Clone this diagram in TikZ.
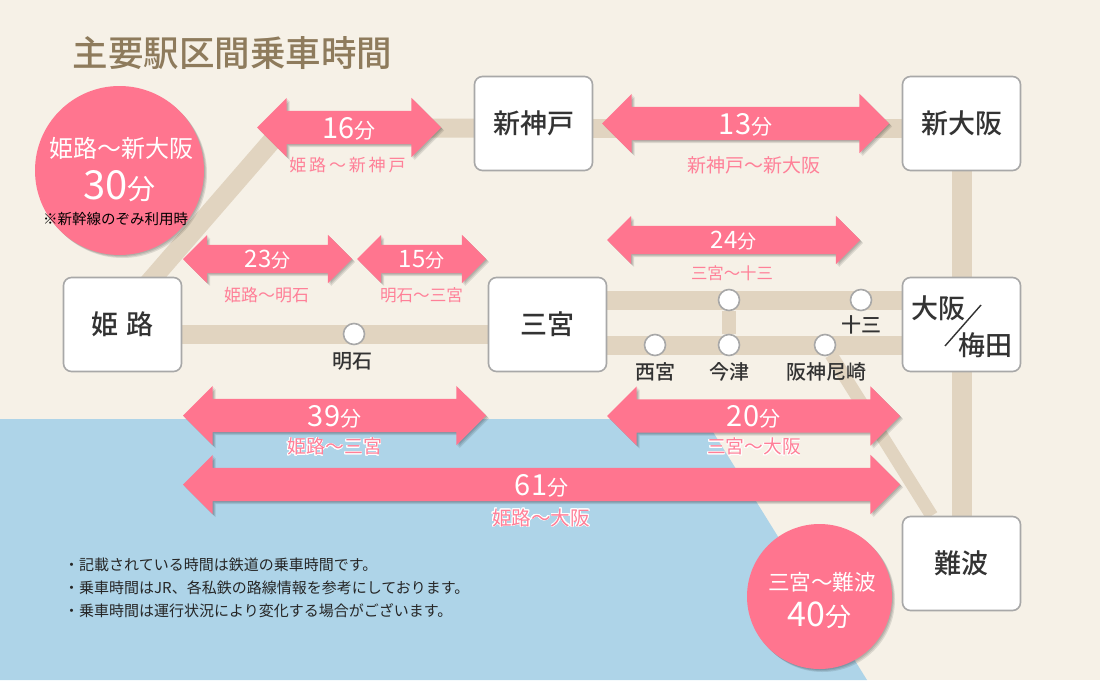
\documentclass[tikz,border=0pt]{standalone}
\usepackage{fontspec}
\usepackage{contour}
\setmainfont{Noto Sans CJK JP}
\setsansfont{Noto Sans CJK JP}
\newfontfamily\jpmed{Noto Sans CJK JP}[UprightFont=* Medium]
\contourlength{0.7pt}
\usepackage{xcolor}
\usepackage{tikz}
\usetikzlibrary{shapes,shadows,backgrounds}

\definecolor{paper}{HTML}{F6F1E7}
\definecolor{sea}{HTML}{AED4E8}
\definecolor{railtan}{HTML}{E1D4C0}
\definecolor{rosepink}{HTML}{FF758F}
\definecolor{titlebrown}{HTML}{8E7B5C}
\definecolor{boxgray}{HTML}{A8A8A8}
\definecolor{inkdark}{HTML}{333333}

\newcommand{\px}[1]{\fontsize{#1}{#1}\selectfont}
\newcommand{\bigmin}[1]{{\px{29}#1}{\px{21}分}}
\newcommand{\smallmin}[1]{{\px{24}#1}{\px{19}分}}

\begin{document}
\begin{tikzpicture}[
    x=1pt, y=-1pt,
    rail/.style={draw=railtan, line width=19pt},
    stationbox/.style={draw=boxgray, fill=white, line width=1.6pt, rounded corners=8pt, minimum width=118pt, minimum height=94pt, inner sep=0pt, text=inkdark, font=\px{27}\jpmed},
    stopdot/.style={circle, draw=boxgray, fill=white, line width=1.6pt, minimum size=21pt, inner sep=0pt},
    stoplabel/.style={text=inkdark, font=\px{20}\jpmed, inner sep=0pt},
    softshadow/.style={general shadow={shadow xshift=#1pt, shadow yshift=-#1pt, opacity=0.1, fill=black}},
    timeshadow/.style={softshadow=1, softshadow=2, softshadow=3},
    timearrow/.style={shape=double arrow, fill=rosepink, inner sep=0pt, double arrow tip angle=90, timeshadow},
    bigarrow/.style={timearrow, text height=33pt, text depth=0pt, minimum width=59pt, double arrow head extend=13pt},
    smallarrow/.style={timearrow, text height=28pt, text depth=0pt, minimum width=48pt, double arrow head extend=10pt},
    timelabel/.style={text=white, inner sep=0pt},
    routelabel/.style={text=rosepink!92!white, inner sep=0pt},
    bubble/.style={circle, fill=rosepink, inner sep=0pt, timeshadow}
]
    \useasboundingbox (0,0) rectangle (1100,680);

    % Stations
    \node[stationbox] (shinkobe) at (533.5,123.5) {新神戸};
    \node[stationbox] (shinosaka) at (961.5,123.5) {新大阪};
    \node[stationbox] (himeji) at (122.5,324.5) {姫\hspace{8pt}路};
    \node[stationbox] (sannomiya) at (547.5,324.5) {三宮};
    \node[stationbox] (osaka) at (961.5,324.5) {};
    \node[stationbox] (namba) at (961.5,563.5) {難波};

    % Small stops
    \node[stopdot] (akashi) at (354,334) {};
    \node[stopdot] (kitastop) at (729,300) {};
    \node[stopdot] (juso) at (861,300) {};
    \node[stopdot] (nishinomiya) at (655,345) {};
    \node[stopdot] (imazu) at (729,345) {};
    \node[stopdot] (amagasaki) at (825,345) {};

    \coordinate (bend) at (283,128);
    \coordinate (himejitap) at (113,324);

    % Sea and rail lines stay behind everything
    \begin{scope}[on background layer]
        \fill[paper] (0,0) rectangle (1100,680);
        \fill[sea] (0,419) -- (705,419) -- (867,680) -- (0,680) -- cycle;
        \draw[rail, line width=20pt] (shinosaka) -- (namba);
        \draw[rail] (himejitap) -- (bend) -- (bend -| shinkobe);
        \draw[rail] (shinkobe |- bend) -- (bend -| shinosaka);
        \draw[rail] (himeji |- akashi) -- (sannomiya |- akashi);
        \draw[rail] (sannomiya |- kitastop) -- (osaka |- kitastop);
        \draw[rail] (sannomiya |- imazu) -- (osaka |- imazu);
        \draw[rail, line width=14pt] (kitastop) -- (imazu);
        \draw[rail, line width=13pt] (amagasaki) -- (namba);
    \end{scope}

    \node[font=\px{35.5}\jpmed, text=titlebrown, inner sep=0pt] (title) at (232.5,53) {主要駅区間乗車時間};

    % Osaka / Umeda split label
    \node[stoplabel, font=\px{27}\jpmed] (osakaname) at (938.5,308) {大阪};
    \node[stoplabel, font=\px{27}\jpmed] (umedaname) at (985.5,345) {梅田};
    \coordinate (slashtop) at (981,305);
    \coordinate (slashend) at (945,346);
    \draw[inkdark, line width=1.4pt] (slashtop) -- (slashend);

    \node[stoplabel] (akashiname) at (352,361) {明石};
    \node[stoplabel] (jusoname) at (861,325) {十三};
    \node[stoplabel] (nishinomiyaname) at (655,372) {西宮};
    \node[stoplabel] (imazuname) at (729,372) {今津};
    \node[stoplabel] (amagasakiname) at (826,372) {阪神尼崎};

    % Travel time arrows: name/centre x/length/centre y
    \foreach \arrowname/\cx/\len/\cy/\mins in {
        a/349/184/127.5/16, b/745.5/287/123.5/13, e/753.5/293/416/20, f/334.5/303/415.5/39, g/541.5/717/484.5/61} {
        \node[bigarrow, minimum height=\len pt] (arrow\arrowname) at (\cx,\cy) {};
        \node[timelabel] (time\arrowname) at (\cx,\cy+1) {\bigmin{\mins}};
    }
    \foreach \arrowname/\cx/\len/\cy/\mins in {
        c/733.5/253/240/24, d/267.5/169/259/23, h/421.5/129/259/15} {
        \node[smallarrow, minimum height=\len pt] (arrow\arrowname) at (\cx,\cy) {};
        \node[timelabel] (time\arrowname) at (\cx,\cy+1) {\smallmin{\mins}};
    }

    % Route captions
    \node[routelabel, font=\px{17}] (routea) at (347.5,165.5) {姫\,路\,〜\,新\,神\,戸};
    \node[routelabel, font=\px{19}] (routeb) at (754,165) {新神戸〜新大阪};
    \node[routelabel, font=\px{16.4}] (routec) at (732,273) {三宮〜十三};
    \node[routelabel, font=\px{17}] (routed) at (266.5,295) {姫路〜明石};
    \node[routelabel, font=\px{16.6}] (routeh) at (421.5,295) {明石〜三宮};
    \node[routelabel, font=\px{19}] (routef) at (334.5,447) {\contour{white}{姫路〜三宮}};
    \node[routelabel, font=\px{18.8}] (routee) at (754,447) {\contour{white}{三宮〜大阪}};
    \node[routelabel, font=\px{19.6}] (routeg) at (541,518) {\contour{white}{姫路〜大阪}};

    % Circles
    \node[bubble, minimum size=169pt] (shinkansen) at (119.5,170.5) {};
    \node[timelabel, font=\px{24}] (shinkansenroute) at (121.5,148) {姫路〜新大阪};
    \node[timelabel] (shinkansentime) at (119.5,186) {{\px{40}30}{\px{28}分}};
    \node[inner sep=0pt, font=\px{14.5}, text=black] (shinkansennote) at (115.5,219) {※新幹線のぞみ利用時};

    \node[bubble, minimum size=145pt] (nambacircle) at (819.5,596.5) {};
    \node[timelabel, font=\px{21.6}] (nambaroute) at (822,582) {三宮〜難波};
    \node[timelabel] (nambatime) at (819.5,615) {{\px{34}40}{\px{26}分}};

    % Notes
    \node[anchor=north west, align=left, inner sep=0pt, text=black!85, font=\fontsize{15}{22.8}\selectfont] (notes) at (64,558) {・記載されている時間は鉄道の乗車時間です。\\・乗車時間はJR、各私鉄の路線情報を参考にしております。\\・乗車時間は運行状況により変化する場合がございます。};
\end{tikzpicture}
\end{document}
